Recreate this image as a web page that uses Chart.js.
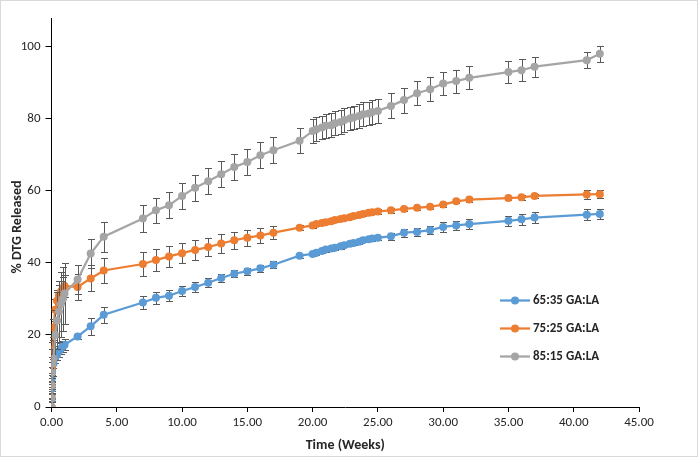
<!DOCTYPE html>
<html>
<head>
<meta charset="utf-8">
<script src="https://cdn.jsdelivr.net/npm/chart.js@4/dist/chart.umd.min.js"></script>
<style>
  html, body { margin: 0; padding: 0; background: #fff; }
  #wrap { width: 698px; height: 457px; }
</style>
</head>
<body>
<div id="wrap"><canvas id="releaseChart" width="698" height="457"></canvas></div>
<script>
// time points (weeks)
const weeks = [0, 0.006, 0.012, 0.024, 0.048, 0.143, 0.286, 0.429, 0.571, 0.714, 0.857, 1,
  2, 3, 4,
  7, 8, 9, 10, 11, 12, 13, 14, 15, 16, 17,
  19,
  20, 20.29, 20.71, 21, 21.43, 21.71, 22.14, 22.43, 22.86, 23.14, 23.57, 23.86, 24.29, 24.57, 25,
  26, 27, 28, 29, 30, 31, 32,
  35, 36, 37,
  41, 42];

const seriesNames = ['65:35 GA:LA', '75:25 GA:LA', '85:15 GA:LA'];
const seriesColors = ['#5B9BD5', '#ED7D31', '#A5A5A5'];

// % DTG released
const ga6535 = [0, 2, 5, 8, 10, 12, 13.6, 14.6, 15.5, 16.2, 16.8, 17.3,
  19.6, 22.4, 25.6,
  29.0, 30.3, 30.9, 32.2, 33.3, 34.5, 35.8, 37.0, 37.7, 38.5, 39.5,
  42.0,
  42.5, 42.8, 43.3, 43.7, 44.0, 44.2, 44.6, 44.9, 45.3, 45.5, 45.9, 46.3, 46.6, 46.8, 47.0,
  47.4, 48.4, 48.6, 49.1, 50.0, 50.4, 50.8,
  51.7, 52.1, 52.6,
  53.4, 53.6];
const ga7525 = [0, 3, 6, 11, 16, 22, 27, 29.5, 31, 32, 33, 33.6,
  33.3, 35.7, 37.9,
  39.7, 40.8, 41.8, 42.7, 43.6, 44.4, 45.4, 46.3, 47.0, 47.6, 48.4,
  49.8,
  50.4, 50.8, 51.1, 51.3, 51.6, 51.9, 52.2, 52.4, 52.7, 53.0, 53.3, 53.6, 53.9, 54.1, 54.3,
  54.6, 55.0, 55.3, 55.6, 56.2, 57.1, 57.6,
  58.0, 58.2, 58.6,
  59.0, 59.1];
const ga8515 = [0, 2.5, 6, 9.5, 12, 13.5, 20, 24, 26.5, 28.5, 30, 31.5,
  35.4, 42.6, 47.3,
  52.3, 54.6, 56.0, 58.6, 60.9, 62.7, 64.6, 66.6, 68.0, 69.9, 71.3,
  73.9,
  76.6, 77.1, 77.6, 78.1, 78.2, 78.8, 79.1, 79.7, 80.1, 80.4, 80.8, 81.3, 81.5, 81.9, 82.2,
  83.6, 85.2, 87.1, 88.2, 89.8, 90.5, 91.4,
  93.0, 93.5, 94.5,
  96.3, 98.1];

// standard deviations (error bars)
const err6535 = [0, 0.3, 0.5, 0.8, 1, 1.2, 1.5, 1.5, 1.5, 1.5, 1.5, 1.5,
  0.8, 2.3, 2.3,
  1.7, 1.6, 1.5, 1.5, 1.5, 1.2, 1.2, 1, 1, 1, 1,
  0.6,
  0.6, 0.6, 0.6, 0.6, 0.6, 0.6, 0.6, 0.6, 0.6, 0.6, 0.6, 0.6, 0.6, 0.6, 0.6,
  0.9, 1.1, 1.1, 1.2, 1.3, 1.3, 1.4,
  1.4, 1.5, 1.5,
  1.5, 1.5];
const err7525 = [0, 0.5, 1, 1.5, 2, 2.5, 3, 3, 3, 3, 3, 3,
  3.6, 3.6, 3.5,
  3.2, 3, 2.9, 2.8, 2.8, 2.6, 2.6, 2.4, 2.2, 2, 1.8,
  0.6,
  0.6, 0.6, 0.6, 0.6, 0.6, 0.6, 0.6, 0.6, 0.6, 0.6, 0.6, 0.6, 0.6, 0.6, 0.6,
  0.6, 0.6, 0.6, 0.6, 0.6, 0.6, 0.6,
  0.6, 0.6, 0.6,
  1.2, 1.2];
const err8515 = [0, 1, 2, 3, 4, 5, 7, 8, 8.5, 9, 9, 8.5,
  4, 4, 4.2,
  3.7, 3.5, 3.6, 3.6, 3.6, 3.6, 3.6, 3.6, 3.6, 3.6, 3.6,
  3.5,
  3.3, 3.3, 3.3, 3.3, 3.3, 3.3, 3.3, 3.3, 3.3, 3.3, 3.3, 3.3, 3.3, 3.3, 3.3,
  3.5, 3.5, 3.3, 3.3, 3.2, 3.2, 3.2,
  3, 3, 2.8,
  2.2, 2.2];

const yTicks = [0, 20, 40, 60, 80, 100];

const values = [ga6535, ga7525, ga8515];
const errors = [err6535, err7525, err8515];
const FONT = 'Calibri, Carlito, Lato, "Liberation Sans", sans-serif';

// error bars, drawn under each series' markers
const errorBars = {
  id: 'errorBars',
  beforeDatasetDraw(chart, args) {
    const err = errors[args.index];
    const ys = chart.scales.y;
    const ctx = chart.ctx;
    ctx.save();
    ctx.strokeStyle = '#595959';
    ctx.lineWidth = 1;
    args.meta.data.forEach((pt, i) => {
      const e = err[i];
      if (!e) return;
      const v = values[args.index][i];
      const px = Math.round(pt.x) + 0.5;
      const top = Math.round(ys.getPixelForValue(v + e)) + 0.5;
      const bot = Math.round(ys.getPixelForValue(v - e)) + 0.5;
      ctx.beginPath();
      ctx.moveTo(px, top); ctx.lineTo(px, bot);
      ctx.moveTo(px - 3.5, top); ctx.lineTo(px + 3.5, top);
      ctx.moveTo(px - 3.5, bot); ctx.lineTo(px + 3.5, bot);
      ctx.stroke();
    });
    ctx.restore();
  }
};

// legend inside the plot, y title, chart border
const insideLegend = {
  id: 'insideLegend',
  afterDraw(chart) {
    const ctx = chart.ctx;
    ctx.save();
    const rows = [300.5, 328.5, 356.5];
    seriesNames.forEach((name, i) => {
      const y = rows[i];
      ctx.strokeStyle = seriesColors[i];
      ctx.lineWidth = 2.25;
      ctx.beginPath();
      ctx.moveTo(500, y); ctx.lineTo(530, y);
      ctx.stroke();
      ctx.fillStyle = seriesColors[i];
      ctx.beginPath();
      ctx.arc(515, y, 4, 0, Math.PI * 2);
      ctx.fill();
      ctx.fillStyle = '#262626';
      ctx.font = 'bold 13px ' + FONT;
      ctx.textBaseline = 'middle';
      ctx.fillText(name, 533, y + 0.5);
    });

    ctx.translate(17, 227);
    ctx.rotate(-Math.PI / 2);
    ctx.textAlign = 'center';
    ctx.textBaseline = 'middle';
    ctx.font = 'bold 14px ' + FONT;
    ctx.fillStyle = '#262626';
    ctx.fillText('% DTG Released', 0, 0);
    ctx.setTransform(1, 0, 0, 1, 0, 0);

    ctx.strokeStyle = '#d9d9d9';
    ctx.lineWidth = 1;
    ctx.strokeRect(0.5, 0.5, chart.width - 1, chart.height - 1);
    ctx.restore();
  }
};

const datasets = values.map((vals, i) => ({
  label: seriesNames[i],
  data: weeks.map((w, j) => ({ x: w, y: vals[j] })),
  borderColor: seriesColors[i],
  backgroundColor: seriesColors[i],
  borderWidth: 2.25,
  pointRadius: 4,
  pointHoverRadius: 4,
  pointBorderWidth: 0,
  tension: 0,
  order: 2 - i
}));

new Chart(document.getElementById('releaseChart'), {
  type: 'line',
  data: { datasets },
  plugins: [errorBars, insideLegend],
  options: {
    responsive: false,
    animation: false,
    layout: { padding: { top: 18, right: 59, left: 0, bottom: 0 } },
    plugins: {
      legend: { display: false },
      tooltip: { enabled: false }
    },
    scales: {
      x: {
        type: 'linear',
        min: 0,
        max: 45,
        afterFit: s => { s.height = 50; },
        grid: { drawOnChartArea: false, color: '#000', tickLength: 5 },
        border: { color: '#000', width: 1 },
        ticks: {
          stepSize: 5,
          padding: 3,
          color: '#262626',
          font: { family: FONT, size: 13 },
          callback: v => Number(v).toFixed(2)
        },
        title: {
          display: true,
          text: 'Time (Weeks)',
          color: '#262626',
          font: { family: FONT, size: 14, weight: 'bold' },
          padding: { top: 4, bottom: 3 }
        }
      },
      y: {
        min: 0,
        max: 108,
        afterFit: s => { s.width = 51.5; },
        afterBuildTicks: s => { s.ticks = yTicks.map(v => ({ value: v })); },
        grid: { drawOnChartArea: false, color: '#000', tickLength: 6 },
        border: { color: '#000', width: 1 },
        ticks: {
          padding: 5,
          color: '#262626',
          font: { family: FONT, size: 13 }
        }
      }
    }
  }
});
</script>
</body>
</html>
